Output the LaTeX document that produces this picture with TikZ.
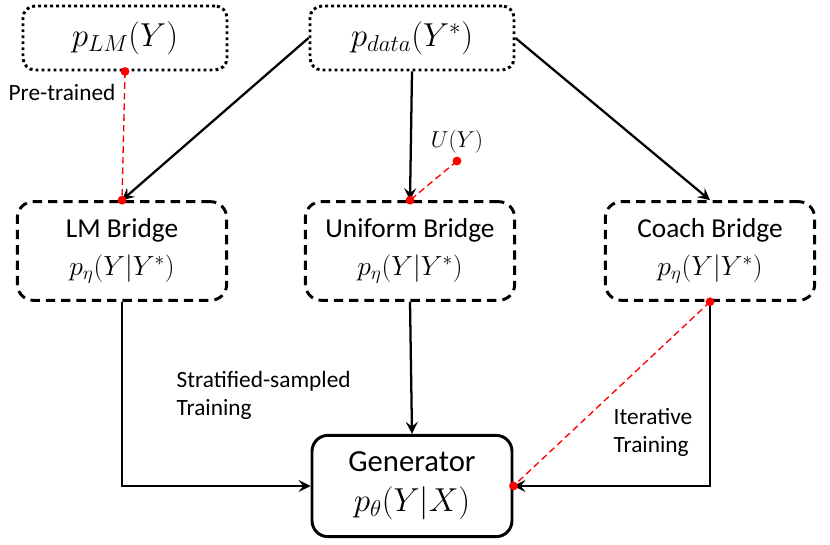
\documentclass[tikz,border=0pt]{standalone}
\usepackage{amsmath}
\usepackage{fontspec}
\setmainfont{Carlito}
\usetikzlibrary{arrows.meta}

\newcommand{\mathbig}[1]{{\fontsize{22.5}{24}\selectfont$#1$}}

\begin{document}
\begin{tikzpicture}[x=0.75pt,y=-0.75pt,
  distbox/.style={draw, line width=2.2pt, rounded corners=9pt, dash pattern=on 2.2pt off 2.3pt,
    minimum width=153pt, minimum height=48pt, font=\fontsize{23}{25}\selectfont},
  bridgebox/.style={draw, line width=2.2pt, rounded corners=12pt, dash pattern=on 7pt off 4.5pt,
    minimum width=157pt, minimum height=74pt, align=center, font=\fontsize{20.5}{25}\selectfont},
  genbox/.style={draw, line width=2.2pt, rounded corners=12pt,
    minimum width=150pt, minimum height=76pt, align=center, font=\fontsize{23}{27}\selectfont},
  flow/.style={-{Stealth[length=9pt,width=9pt,inset=3.5pt]}, line width=1.7pt},
  link/.style={red, dash pattern=on 5pt off 3pt, line width=1pt},
  reddot/.style={red},
  lbl/.style={font=\fontsize{17.5}{21}\selectfont, align=left}]

  % frame of the picture
  \useasboundingbox (0,0) rectangle (830,545);

  % distributions
  \node[distbox] (plm)   at (125,38) {$p_{LM}(Y)$};
  \node[distbox] (pdata) at (412,38) {$p_{data}(Y^*)$};

  % bridges
  \node[bridgebox] (lmb)    at (122,251) {LM Bridge\\[3pt]\mathbig{p_\eta(Y|Y^*)}};
  \node[bridgebox] (unib)   at (410,251) {Uniform Bridge\\[3pt]\mathbig{p_\eta(Y|Y^*)}};
  \node[bridgebox] (coachb) at (710,251) {Coach Bridge\\[3pt]\mathbig{p_\eta(Y|Y^*)}};

  % generator
  \node[genbox] (gen) at (412,486) {Generator\\[3pt]$p_\theta(Y|X)$};

  % data flow
  \draw[flow] (pdata.west) -- (lmb.north);
  \draw[flow] (pdata.south) -- (unib.north);
  \draw[flow] (pdata.east) -- (coachb.north);
  \draw[flow] (lmb.south) |- (gen.west);
  \draw[flow] (unib.south) -- (gen.north);
  \draw[flow] (coachb.south) |- (gen.east);

  % red links
  \coordinate (uy) at (457,161);
  \node[font=\fontsize{17}{19}\selectfont] (ulbl) at (457,142) {$U(Y)$};
  \draw[link] (plm.south) -- (lmb.north);
  \draw[link] (uy) -- (unib.north);
  \draw[link] (coachb.south) -- (gen.east);
  \foreach \p in {plm.south, lmb.north, uy, unib.north, coachb.south, gen.east}
    \fill[reddot] (\p) circle (3.3pt);

  % labels
  \node[lbl] (pretr) at (62,92) {Pre-trained};
  \node[lbl, anchor=west] (strat) at (172,395) {Stratified-sampled\\Training};
  \node[lbl, anchor=west] (iter)  at (609,432) {Iterative\\Training};

\end{tikzpicture}
\end{document}
